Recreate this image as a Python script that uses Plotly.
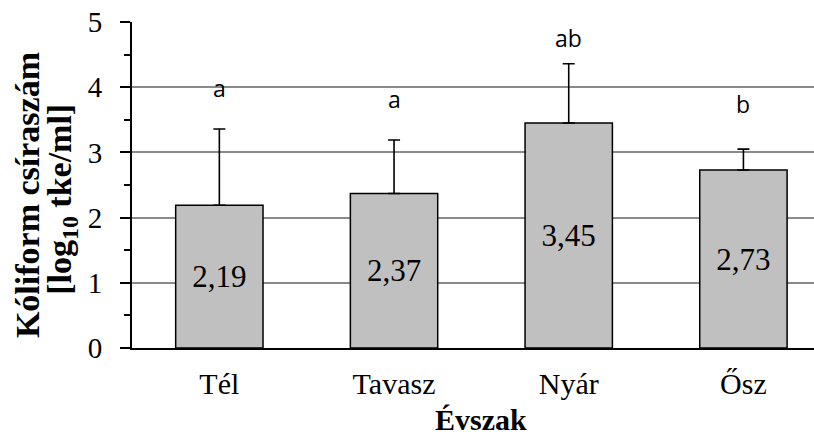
import plotly.graph_objects as go

# Seasonal coliform counts (log10 CFU/ml) with upper error and significance letters
seasons = ["Tél", "Tavasz", "Nyár", "Ősz"]
means = [2.19, 2.37, 3.45, 2.73]
err_up = [1.17, 0.82, 0.91, 0.32]
letters = ["a", "a", "ab", "b"]
letter_y = [3.99, 3.82, 4.76, 3.74]

value_text = [f"{v:.2f}".replace(".", ",") for v in means]

serif = "Times New Roman, Liberation Serif, serif"

fig = go.Figure()
fig.add_trace(go.Bar(
    x=seasons,
    y=means,
    width=0.5,
    marker=dict(color="#c0c0c0", line=dict(color="#000000", width=1.5)),
    error_y=dict(type="data", symmetric=False, array=err_up,
                 arrayminus=[0] * len(err_up),
                 color="#000000", thickness=1.6, width=6),
    text=value_text,
    textposition="inside",
    insidetextanchor="middle",
    textangle=0,
    constraintext="none",
    textfont=dict(family=serif, size=31, color="#000000"),
    insidetextfont=dict(family=serif, size=31, color="#000000"),
    showlegend=False,
))

for s, l, ly in zip(seasons, letters, letter_y):
    fig.add_annotation(x=s, y=ly, text=l, showarrow=False,
                       xanchor="center", yanchor="middle",
                       font=dict(family="Open Sans", size=23, color="#000000"))

# Axis titles
fig.add_annotation(x=1.5, xref="x", y=-0.22, yref="paper", text="<b>Évszak</b>",
                   showarrow=False, xanchor="center", yanchor="middle",
                   font=dict(family=serif, size=30, color="#000000"))
ytitle_lines = ["<b>Kóliform csíraszám</b>", "<b>[log<sub>10</sub> tke/ml]</b>"]
for txt, px, py in zip(ytitle_lines, [-0.154, -0.103], [0.469, 0.457]):
    fig.add_annotation(x=px, xref="paper", y=py, yref="paper", text=txt,
                       showarrow=False, textangle=-90, xanchor="center", yanchor="middle",
                       font=dict(family=serif, size=34, color="#000000"))

fig.update_layout(
    width=814, height=443,
    margin=dict(l=132, r=0, t=22, b=95),
    plot_bgcolor="#ffffff", paper_bgcolor="#ffffff",
    bargap=0.5,
    font=dict(family=serif, color="#000000"),
    xaxis=dict(
        type="category",
        range=[-0.5, 3.404],
        showgrid=False, showline=True, linecolor="#000000", linewidth=2,
        ticks="", ticklabelstandoff=8,
        tickfont=dict(family=serif, size=30, color="#000000"),
    ),
    yaxis=dict(
        range=[0, 5], dtick=1, tick0=0,
        showgrid=True, gridcolor="#8a8a8a", gridwidth=2,
        showline=True, linecolor="#000000", linewidth=2,
        ticks="outside", ticklen=10, tickwidth=1.5, tickcolor="#000000",
        ticklabelstandoff=12,
        minor=dict(dtick=0.5, ticks="outside", ticklen=6, tickwidth=1.5,
                   tickcolor="#000000", showgrid=False),
        tickfont=dict(family=serif, size=29, color="#000000"),
        zeroline=False,
    ),
)

fig.write_html("out.html")
